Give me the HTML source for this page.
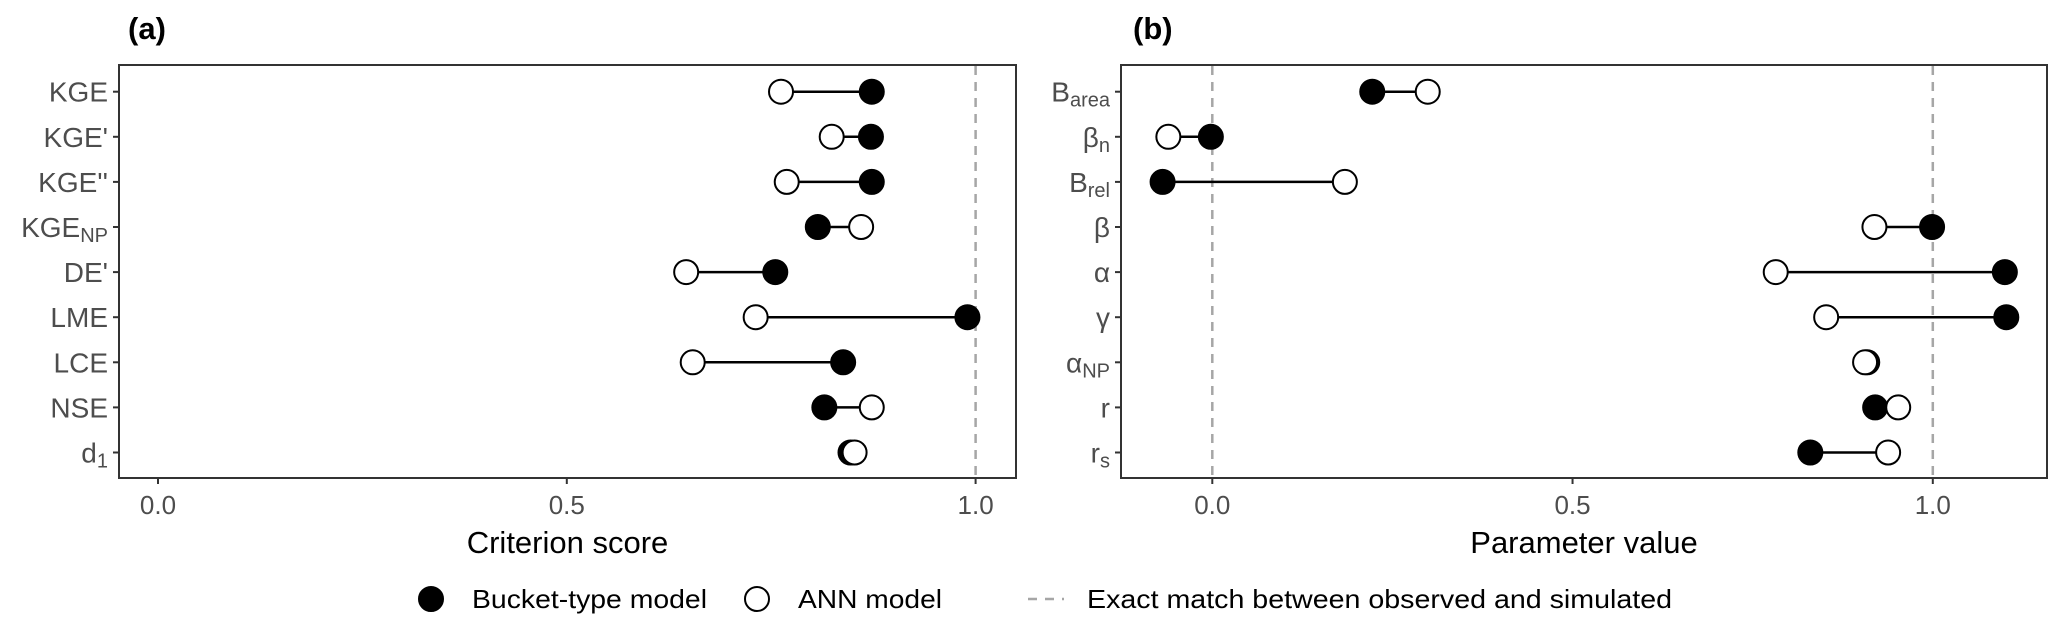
<!DOCTYPE html>
<html><head><meta charset="utf-8"><style>
html,body{margin:0;padding:0;background:#fff;}
svg{display:block;font-family:"Liberation Sans",Arial,sans-serif;}
</style></head><body>
<svg id="chart" width="2067" height="625" viewBox="0 0 2067 625" xmlns="http://www.w3.org/2000/svg">
<g id="pa"></g>
<g id="pb"></g>
<g>
  <g>
    <circle cx="431" cy="599" r="12" fill="#000" stroke="#000" stroke-width="2"/>
    <text x="472" y="608" font-size="26" fill="#000" textLength="235" lengthAdjust="spacingAndGlyphs">Bucket-type model</text>
  </g>
  <g>
    <circle cx="757" cy="599" r="12" fill="#fff" stroke="#000" stroke-width="2"/>
    <text x="798" y="608" font-size="26" fill="#000" textLength="144" lengthAdjust="spacingAndGlyphs">ANN model</text>
  </g>
  <g>
    <line x1="1028" y1="599" x2="1064" y2="599" stroke="#a6a6a6" stroke-width="2.5" stroke-dasharray="9,8"/>
    <text x="1087" y="608" font-size="26" fill="#000" textLength="585" lengthAdjust="spacingAndGlyphs">Exact match between observed and simulated</text>
  </g>
</g>
</svg>
<script>
// Panel (a) data
const catsA = [["KGE",""],["KGE'",""],["KGE''",""],["KGE","NP"],["DE'",""],["LME",""],["LCE",""],["NSE",""],["d","1"]];
const bucketA = [0.873,0.872,0.873,0.807,0.755,0.990,0.838,0.815,0.847];
const annA = [0.762,0.824,0.769,0.860,0.646,0.731,0.654,0.873,0.852];
const ticksA = [0.0,0.5,1.0];
const tickLabelsA = ["0.0","0.5","1.0"];
const refLinesA = [1.0];
// Panel (b) data
const catsB = [["B","area"],["β","n"],["B","rel"],["β",""],["α",""],["γ",""],["α","NP"],["r",""],["r","s"]];
const bucketB = [0.222,-0.002,-0.069,0.999,1.100,1.102,0.909,0.920,0.830];
const annB = [0.299,-0.061,0.184,0.919,0.782,0.852,0.906,0.952,0.938];
const ticksB = [0.0,0.5,1.0];
const tickLabelsB = ["0.0","0.5","1.0"];
const refLinesB = [0.0,1.0];

const NS="http://www.w3.org/2000/svg";
function mk(tag,attrs,parent){const e=document.createElementNS(NS,tag);for(const k in attrs)e.setAttribute(k,attrs[k]);parent.appendChild(e);return e;}

function panel(g,cfg){
  const L=cfg.left,R=cfg.right,T=65,B=478;
  const xs=v=>cfg.x0+(v-0)*(cfg.x1-cfg.x0);
  const ys=i=>91.7+i*45.1;
  const title=mk('text',{x:cfg.titleX,y:39,'font-size':31,'font-weight':'bold',fill:'#000'},g);
  title.textContent=cfg.title;
  
  
  const frame=mk('rect',{x:L,y:T,width:R-L,height:B-T,fill:'#fff',stroke:'#333',"stroke-width":2},g);
  
  
  cfg.refs.forEach(v=>{
    const l=mk('line',{x1:xs(v),x2:xs(v),y1:T+1,y2:B-1,stroke:'#a6a6a6','stroke-width':2.5,'stroke-dasharray':'9,7'},g);
    
    
  });
  cfg.ticks.forEach((v,i)=>{
    const t=mk('line',{x1:xs(v),x2:xs(v),y1:B,y2:B+6,stroke:'#333','stroke-width':2},g);
    
    
    const tx=mk('text',{x:xs(v),y:514,'font-size':26,fill:'#4d4d4d','text-anchor':'middle'},g);
    tx.textContent=cfg.tickLabels[i];
    
    
  });
  const at=mk('text',{x:(L+R)/2,y:553,'font-size':31,fill:'#000','text-anchor':'middle'},g);
  at.textContent=cfg.axisTitle;
  
  
  cfg.cats.forEach((c,i)=>{
    const y=ys(i);
    const tk=mk('line',{x1:L-6,x2:L,y1:y,y2:y,stroke:'#333','stroke-width':2},g);
    
    
    const lb=mk('text',{x:L-11,y:y+10,'font-size':28,fill:'#4d4d4d','text-anchor':'end'},g);
    
    
    const m=mk('tspan',{},lb);m.textContent=c[0];
    if(c[1]){const s=mk('tspan',{'font-size':20,dy:5},lb);s.textContent=c[1];}
    const seg=mk('line',{x1:xs(cfg.bucket[i]),x2:xs(cfg.ann[i]),y1:y,y2:y,stroke:'#000','stroke-width':2.5},g);
    
    
    const b=mk('circle',{cx:xs(cfg.bucket[i]),cy:y,r:12,fill:'#000',stroke:'#000','stroke-width':2},g);
    
    
    const a=mk('circle',{cx:xs(cfg.ann[i]),cy:y,r:12,fill:'#fff',stroke:'#000','stroke-width':2},g);
    
    
  });
}
panel(document.getElementById('pa'),{left:119,right:1016,x0:158,x1:975.6,title:'(a)',titleX:128,cats:catsA,bucket:bucketA,ann:annA,ticks:ticksA,tickLabels:tickLabelsA,refs:refLinesA,axisTitle:'Criterion score'});
panel(document.getElementById('pb'),{left:1121,right:2047,x0:1212.3,x1:1932.8,title:'(b)',titleX:1133,cats:catsB,bucket:bucketB,ann:annB,ticks:ticksB,tickLabels:tickLabelsB,refs:refLinesB,axisTitle:'Parameter value'});
</script>
</body></html>
